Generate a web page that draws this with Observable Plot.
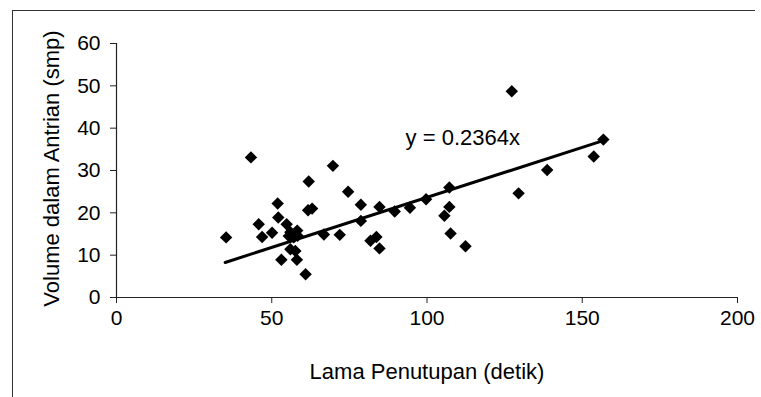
<!DOCTYPE html>
<html>
<head>
<meta charset="utf-8">
<script src="https://cdn.jsdelivr.net/npm/d3@7"></script>
<script src="https://cdn.jsdelivr.net/npm/@observablehq/plot@0.6"></script>
<style>
  html, body { margin: 0; padding: 0; background: #fff; }
  #wrap { position: relative; width: 761px; height: 397px; overflow: hidden; background: #fff; }
  #frame { position: absolute; left: 12px; top: 10px; width: 742px; height: 400px; z-index: 2;
           border-top: 1.5px solid #333; border-left: 1.5px solid #333; pointer-events: none; }
  #wrap svg { position: absolute; left: 0; top: 0; z-index: 1; }
</style>
</head>
<body>
<div id="wrap"><div id="frame"></div></div>
<script>
const durations = [35.3, 43.3, 51.9, 52.1, 45.8, 46.9, 50.1, 54.8, 56.0, 58.2, 55.5, 57.1, 56.0, 57.6, 53.1, 58.1, 60.9, 61.9, 61.7, 63.0, 69.7, 74.6, 78.7, 78.7, 66.8, 71.9, 84.7, 89.6, 94.5, 99.7, 107.2, 107.2, 105.6, 107.6, 112.4, 81.8, 83.7, 84.7, 127.3, 129.5, 138.7, 153.7, 156.8, 58.3];
const volumes   = [14.2, 33.1, 22.2, 18.9, 17.3, 14.3, 15.3, 17.3, 15.4, 15.8, 14.5, 14.2, 11.4, 11.0, 8.9, 8.9, 5.5, 27.4, 20.6, 21.0, 31.1, 25.0, 21.9, 18.1, 14.9, 14.8, 21.4, 20.3, 21.2, 23.2, 26.0, 21.4, 19.3, 15.1, 12.1, 13.4, 14.3, 11.6, 48.7, 24.6, 30.1, 33.3, 37.3, 14.6];
const trendSlope = 0.2364;
const trendRange = [35, 156];
const xTicks = [0, 50, 100, 150, 200];
const yTicks = [0, 10, 20, 30, 40, 50, 60];
const xTitle = "Lama Penutupan (detik)";
const yTitle = "Volume dalam Antrian (smp)";
const equation = "y = 0.2364x";

const points = durations.map((d, i) => ({x: d, y: volumes[i]}));
const trend = trendRange.map(x => ({x, y: trendSlope * x}));

const font = "'Liberation Sans', Arial, Helvetica, sans-serif";
const chart = Plot.plot({
  width: 761,
  height: 397,
  marginLeft: 116,
  marginRight: 24,
  marginTop: 43,
  marginBottom: 100,
  style: {fontFamily: font, fontSize: "21px", color: "#000", background: "transparent", overflow: "visible"},
  x: {domain: [0, 200]},
  y: {domain: [0, 60]},
  marks: [
    Plot.axisX({ticks: xTicks, tickSize: 6, tickPadding: 7, label: null, fontSize: 21, stroke: "#222"}),
    Plot.axisY({ticks: yTicks, tickSize: 6, tickPadding: 10, label: null, fontSize: 21, stroke: "#222"}),
    Plot.ruleX([0], {stroke: "#222", strokeWidth: 1.2}),
    Plot.ruleY([0], {stroke: "#222", strokeWidth: 1.2}),
    Plot.line(trend, {x: "x", y: "y", stroke: "#000", strokeWidth: 3}),
    Plot.dot(points, {x: "x", y: "y", symbol: "diamond2", r: 5.6, fill: "#000", stroke: "none"}),
    Plot.text([equation], {x: 93.1, y: 37.7, text: d => d, textAnchor: "start", lineAnchor: "middle", fontSize: 22, fill: "#000"}),
    Plot.text([xTitle], {frameAnchor: "bottom", dy: 74, text: d => d, textAnchor: "middle", lineAnchor: "middle", fontSize: 22, fill: "#000"}),
    Plot.text([yTitle], {frameAnchor: "left", dx: -65, dy: -2, rotate: -90, text: d => d, textAnchor: "middle", lineAnchor: "middle", fontSize: 22, fill: "#000"})
  ]
});
document.getElementById("wrap").appendChild(chart);
</script>
</body>
</html>
